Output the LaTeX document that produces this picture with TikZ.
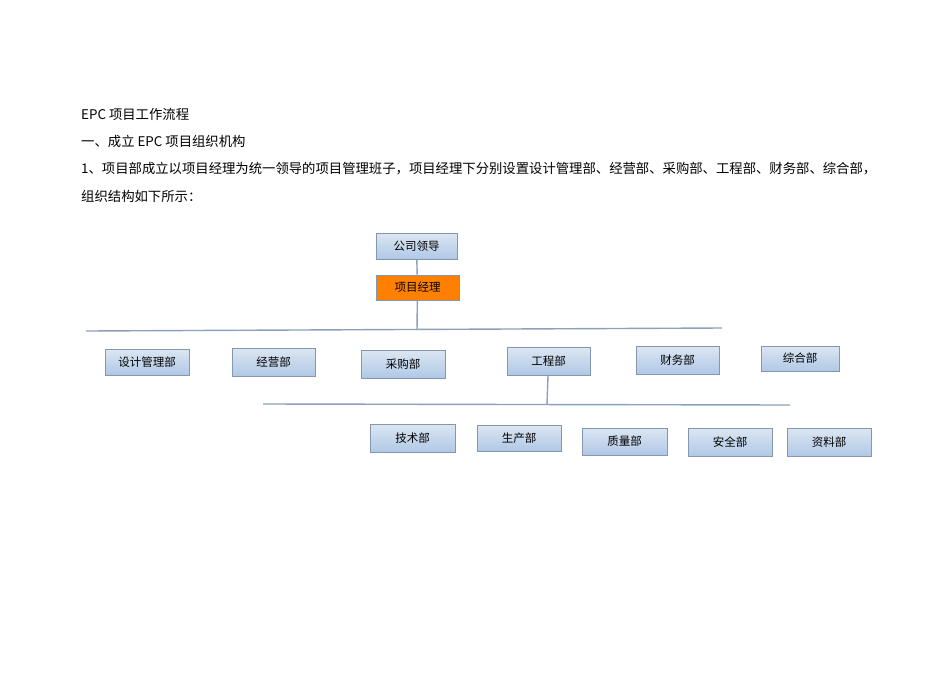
\documentclass[tikz,border=0pt]{standalone}
\usepackage{fontspec}
\setmainfont{Noto Sans CJK SC}
\begin{document}
\begin{tikzpicture}[x=1pt,y=-1pt,
 box/.style={draw=boxline,line width=1pt,top color=boxtop,bottom color=boxbot,font=\fontsize{11.5}{13}\selectfont,inner sep=0pt},
 txt/.style={anchor=west,inner sep=0pt,font=\fontsize{13.35}{15}\selectfont},
 conn/.style={draw=connc,line width=1.4pt}]
\definecolor{boxline}{HTML}{8497B0}
\definecolor{boxtop}{HTML}{DCE6F2}
\definecolor{boxbot}{HTML}{B0C8E6}
\definecolor{connc}{HTML}{8CA0BC}
\useasboundingbox (0,0) rectangle (950,672);
\node[txt] (t1) at (81,114) {EPC 项目工作流程};
\node[txt] (t2) at (81,141) {一、成立 EPC 项目组织机构};
\node[txt] (t3) at (81,169) {1、项目部成立以项目经理为统一领导的项目管理班子，项目经理下分别设置设计管理部、经营部、采购部、工程部、财务部、综合部，};
\node[txt] (t4) at (81,196) {组织结构如下所示：};
\node[box,minimum width=81,minimum height=26] (ld) at (416.5,246) {公司领导};
\node[box,draw=boxline,top color=orange,bottom color=orange,minimum width=83,minimum height=25] (pm) at (417.5,287.5) {项目经理};
\coordinate (h1l) at (86,331); \coordinate (h1r) at (722,328);
\coordinate (h1m) at (417,330);
\draw[conn] (h1l) -- (h1r);
\draw[conn] (ld) -- (pm);
\draw[conn] (pm) -- (h1m);
\node[box,minimum width=84,minimum height=26] (a1) at (147,362) {设计管理部};
\node[box,minimum width=83,minimum height=28] (a2) at (273.5,362) {经营部};
\node[box,minimum width=84,minimum height=28] (a3) at (403,364) {采购部};
\node[box,minimum width=83,minimum height=28] (a4) at (548.5,361) {工程部};
\node[box,minimum width=83,minimum height=28] (a5) at (677.5,360) {财务部};
\node[box,minimum width=78,minimum height=25] (a6) at (800,358.5) {综合部};
\coordinate (h2l) at (263,404); \coordinate (h2r) at (790,405);
\coordinate (h2m) at (547,404.5);
\draw[conn] (h2l) -- (h2r);
\draw[conn] (a4) -- (h2m);
\node[box,minimum width=85,minimum height=28] (b1) at (412.5,438) {技术部};
\node[box,minimum width=84,minimum height=26] (b2) at (519,438) {生产部};
\node[box,minimum width=85,minimum height=27] (b3) at (624.5,441.5) {质量部};
\node[box,minimum width=84,minimum height=28] (b4) at (730,442) {安全部};
\node[box,minimum width=84,minimum height=28] (b5) at (829,442) {资料部};
\end{tikzpicture}
\end{document}
